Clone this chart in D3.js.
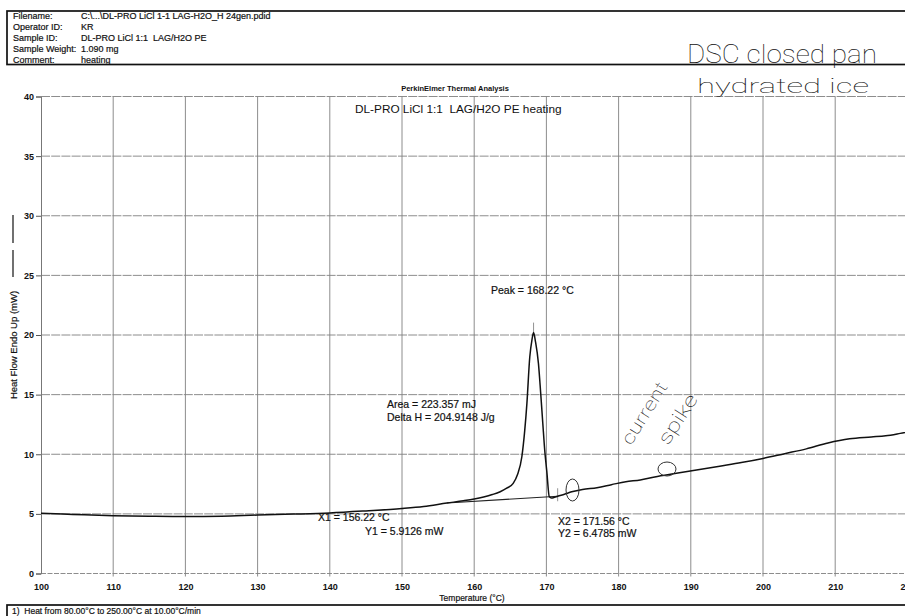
<!DOCTYPE html>
<html>
<head>
<meta charset="utf-8">
<script src="https://cdn.jsdelivr.net/npm/d3@7"></script>
<style>
  html, body { margin: 0; padding: 0; background: #fff; }
  svg { display: block; }
  text { font-family: "Liberation Sans", Arial, sans-serif; fill: #111; white-space: pre; }
  .print text { stroke: #111; stroke-width: 0.2; }
  .hand text { font-family: Roboto, "Open Sans", sans-serif; font-weight: 100; }
</style>
</head>
<body>
<svg id="chart" width="905" height="616"></svg>
<script>
// ---- Run header ----
const headerLabels = ["Filename:", "Operator ID:", "Sample ID:", "Sample Weight:", "Comment:"];
const headerValues = ["C:\\...\\DL-PRO LiCl 1-1 LAG-H2O_H 24gen.pdid", "KR", "DL-PRO LiCl 1:1  LAG/H2O PE", "1.090 mg", "heating"];

// ---- DSC heating trace: temperature (°C) vs heat flow (mW) ----
const temperature = [100, 103, 106, 110, 115, 120, 125, 130, 135, 140, 145, 150, 153, 156.22, 158.5,
  160, 161.3, 162.5, 163.6, 164.5, 165.4, 166, 166.6, 167, 167.3, 167.7, 168, 168.22,
  168.5, 168.9, 169.2, 169.5, 169.8, 170.05, 170.4, 170.7, 170.96, 171.56, 172.5, 173.5,
  175, 177, 179, 181, 183, 185, 188, 191, 194, 197, 200, 203, 206, 209, 212, 215, 217, 219, 222];
const heatFlow = [5.05, 4.99, 4.92, 4.85, 4.8, 4.77, 4.8, 4.9, 4.98, 5.08, 5.25, 5.45, 5.62, 5.91, 6.1,
  6.25, 6.42, 6.62, 6.86, 7.15, 7.56, 8.3, 9.79, 12.0, 14.27, 18.18, 19.6, 20.2,
  19.4, 17.6, 15.2, 12.6, 10.1, 8.6, 6.44, 6.34, 6.36, 6.48, 6.65, 6.85,
  7.05, 7.2, 7.45, 7.7, 7.85, 8.1, 8.4, 8.7, 9.0, 9.3, 9.65, 10.05, 10.45, 10.95, 11.3, 11.45, 11.55, 11.75, 12.1];

// ---- Peak integration results ----
const peakTemp = 168.22;
const onsetX1 = 156.22, onsetY1 = 5.9126;
const endX2 = 171.56, endY2 = 6.4785;
const peakArea = 223.357, deltaH = 204.9148;

// ---- Axes ----
const xTicks = [100, 110, 120, 130, 140, 150, 160, 170, 180, 190, 200, 210, 220];
const yTicks = [0, 5, 10, 15, 20, 25, 30, 35, 40];

const svg = d3.select("#chart");
const x = d3.scaleLinear().domain([100, 222]).range([41, 41 + 122 * 7.22]);
const y = d3.scaleLinear().domain([0, 40]).range([573.5, 96.5]);
const right = 905;

// header box
svg.append("rect").attr("x", 7).attr("y", 11).attr("width", 920).attr("height", 53.5)
  .attr("fill", "none").attr("stroke", "#111").attr("stroke-width", 1.7);
const hdr = svg.append("g").attr("class", "print").style("font-size", "9px");
headerLabels.forEach((lab, i) => {
  const by = 18.5 + i * 11;
  hdr.append("text").attr("x", 13).attr("y", by).text(lab);
  hdr.append("text").attr("x", 81).attr("y", by).text(headerValues[i]);
});

// grid
const grid = svg.append("g").attr("stroke", "#808080").attr("stroke-width", 0.9);
xTicks.filter(t => t > 100).forEach(t => {
  grid.append("line").attr("x1", x(t)).attr("x2", x(t)).attr("y1", y(40)).attr("y2", y(0) + 3);
});
yTicks.forEach(t => {
  grid.append("line").attr("x1", x(100)).attr("x2", right).attr("y1", y(t)).attr("y2", y(t))
    .attr("stroke-dasharray", t === 0 ? "5,1.5" : "9,1.2");
});

// y axis
const yAxis = svg.append("g").attr("transform", `translate(${x(100)},0)`)
  .call(d3.axisLeft(y).tickValues(yTicks).tickSize(5).tickPadding(2));
yAxis.select(".domain").attr("stroke", "#777");
yAxis.selectAll(".tick line").attr("stroke", "#555");
yAxis.selectAll("text").style("font-size", "9px").style("font-weight", "bold").attr("fill", "#111");

// x axis labels
const xAxis = svg.append("g").attr("transform", `translate(0,${y(0)})`)
  .call(d3.axisBottom(x).tickValues(xTicks).tickSize(0).tickPadding(10));
xAxis.select(".domain").remove();
xAxis.selectAll("text").style("font-size", "9px").style("font-weight", "bold").attr("fill", "#111");

svg.append("g").attr("class", "print").append("text").attr("x", 472).attr("y", 601).attr("text-anchor", "middle")
  .style("font-size", "8.5px").text("Temperature (°C)");

// y axis title with trace legend line
svg.append("g").attr("class", "print").append("text")
  .attr("transform", "translate(16.5,345) rotate(-90)").attr("text-anchor", "middle")
  .style("font-size", "9.5px").text("Heat Flow Endo Up (mW)");
svg.append("line").attr("x1", 13).attr("x2", 13).attr("y1", 250).attr("y2", 277)
  .attr("stroke", "#111").attr("stroke-width", 1.2);
svg.append("line").attr("x1", 13).attr("x2", 13).attr("y1", 215).attr("y2", 243)
  .attr("stroke", "#111").attr("stroke-width", 1.2);

// titles
svg.append("text").attr("x", 455).attr("y", 91).attr("text-anchor", "middle")
  .style("font-size", "7.5px").style("font-weight", "bold").text("PerkinElmer Thermal Analysis");
svg.append("text").attr("x", 355).attr("y", 113).style("font-size", "11.8px")
  .text("DL-PRO LiCl 1:1  LAG/H2O PE heating");

// integration baseline
svg.append("line").attr("x1", x(onsetX1)).attr("y1", y(onsetY1)).attr("x2", x(endX2)).attr("y2", y(endY2))
  .attr("stroke", "#222").attr("stroke-width", 1.1);
// peak and end markers
svg.append("line").attr("x1", x(peakTemp)).attr("x2", x(peakTemp)).attr("y1", y(20.2) - 10).attr("y2", y(20.2))
  .attr("stroke", "#777").attr("stroke-width", 0.8);
svg.append("line").attr("x1", x(endX2)).attr("x2", x(endX2)).attr("y1", y(endY2) - 8).attr("y2", y(endY2) + 5)
  .attr("stroke", "#777").attr("stroke-width", 0.8);

// trace
const pts = temperature.map((t, i) => [t, heatFlow[i]]);
svg.append("path").datum(pts)
  .attr("d", d3.line().x(d => x(d[0])).y(d => y(d[1])).curve(d3.curveMonotoneX))
  .attr("fill", "none").attr("stroke", "#111").attr("stroke-width", 1.5);

// result annotations
const ann = svg.append("g").attr("class", "print").style("font-size", "10.5px");
ann.append("text").attr("x", 491).attr("y", 293.5).text(`Peak = ${peakTemp.toFixed(2)} °C`);
ann.append("text").attr("x", 387).attr("y", 407.5).text(`Area = ${peakArea.toFixed(3)} mJ`);
ann.append("text").attr("x", 387).attr("y", 421).text(`Delta H = ${deltaH.toFixed(4)} J/g`);
ann.append("text").attr("x", 318).attr("y", 521).text(`X1 = ${onsetX1.toFixed(2)} °C`);
ann.append("text").attr("x", 365).attr("y", 534.5).text(`Y1 = ${onsetY1.toFixed(4)} mW`);
ann.append("text").attr("x", 558).attr("y", 524.5).text(`X2 = ${endX2.toFixed(2)} °C`);
ann.append("text").attr("x", 558).attr("y", 537).text(`Y2 = ${endY2.toFixed(4)} mW`);

// method box
svg.append("rect").attr("x", 7).attr("y", 605).attr("width", 920).attr("height", 30)
  .attr("fill", "none").attr("stroke", "#111").attr("stroke-width", 1.7);
svg.append("g").attr("class", "print").append("text").attr("x", 12).attr("y", 614).style("font-size", "8.5px")
  .text("1)  Heat from 80.00°C to 250.00°C at 10.00°C/min");

// pen notes
const pen = svg.append("g").attr("class", "hand");
pen.append("text").attr("x", 687).attr("y", 63).style("font-size", "26px")
  .attr("textLength", 190).attr("lengthAdjust", "spacingAndGlyphs").attr("fill", "#222")
  .text("DSC closed pan");
pen.append("text").attr("x", 697).attr("y", 93).style("font-size", "21px")
  .attr("textLength", 172).attr("lengthAdjust", "spacingAndGlyphs").attr("fill", "#888")
  .text("hydrated ice");
pen.append("text").attr("transform", "translate(631,446) rotate(-58)").style("font-size", "18px")
  .attr("textLength", 70).attr("lengthAdjust", "spacingAndGlyphs").attr("fill", "#333")
  .text("current");
pen.append("text").attr("transform", "translate(668,446) rotate(-57)").style("font-size", "19px")
  .attr("textLength", 56).attr("lengthAdjust", "spacingAndGlyphs").attr("fill", "#333")
  .text("spike");
pen.append("ellipse").attr("cx", 572.5).attr("cy", 490).attr("rx", 6.5).attr("ry", 11)
  .attr("fill", "none").attr("stroke", "#333").attr("stroke-width", 1);
pen.append("ellipse").attr("cx", 667).attr("cy", 469).attr("rx", 9).attr("ry", 7)
  .attr("fill", "none").attr("stroke", "#333").attr("stroke-width", 1);
</script>
</body>
</html>
